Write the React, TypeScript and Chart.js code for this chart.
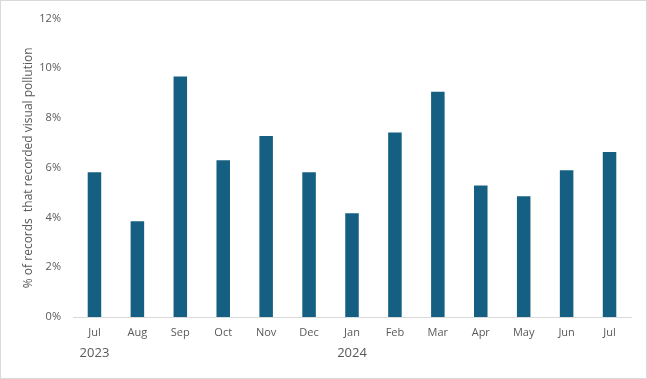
import React, { useEffect, useRef } from "react";
import { Chart, registerables } from "chart.js";

Chart.register(...registerables);

const months = ["Jul", "Aug", "Sep", "Oct", "Nov", "Dec", "Jan", "Feb", "Mar", "Apr", "May", "Jun", "Jul"];
const values = [5.82, 3.85, 9.67, 6.3, 7.28, 5.82, 4.17, 7.42, 9.06, 5.29, 4.86, 5.9, 6.64];
const yearLabels = [
  { index: 0, text: "2023" },
  { index: 6, text: "2024" },
];
const yTitle = "% of records  that recorded visual pollution";

const FONT = "'Open Sans', 'Noto Sans', sans-serif";
const TEXT = "#595959";

export default function App() {
  const ref = useRef<HTMLCanvasElement>(null);
  useEffect(() => {
    if (!ref.current) return;
    const frame = {
      id: "frame",
      beforeDraw(chart: any) {
        const { ctx, width, height } = chart;
        ctx.save();
        ctx.fillStyle = "#ffffff";
        ctx.fillRect(0, 0, width, height);
        ctx.restore();
      },
      afterDraw(chart: any) {
        const { ctx, width, height } = chart;
        ctx.save();
        ctx.strokeStyle = "#d9d9d9";
        ctx.lineWidth = 1;
        ctx.strokeRect(0.5, 0.5, width - 1, height - 1);
        const xs = chart.scales.x;
        ctx.fillStyle = TEXT;
        ctx.font = `13px ${FONT}`;
        ctx.textAlign = "center";
        ctx.textBaseline = "middle";
        yearLabels.forEach((y) => {
          ctx.fillText(y.text, xs.getPixelForValue(y.index), 353);
        });
        ctx.restore();
      },
    };
    const chart = new Chart(ref.current, {
      type: "bar",
      data: {
        labels: months,
        datasets: [
          {
            data: values,
            backgroundColor: "#156082",
            barPercentage: 1,
            categoryPercentage: 0.315,
          },
        ],
      },
      options: {
        animation: false,
        responsive: false,
        maintainAspectRatio: false,
        layout: { padding: { top: 16, right: 16, bottom: 0, left: 0 } },
        plugins: { legend: { display: false }, tooltip: { enabled: false } },
        scales: {
          x: {
            grid: { display: false, drawTicks: false },
            border: { display: true, color: "#d9d9d9", width: 1 },
            ticks: { color: TEXT, font: { family: FONT, size: 11 }, padding: 9, maxRotation: 0 },
            afterFit: (s: any) => {
              s.height = 62;
            },
          },
          y: {
            min: 0,
            max: 12,
            grid: { display: false, drawTicks: false },
            border: { display: false },
            ticks: {
              stepSize: 2,
              color: TEXT,
              font: { family: FONT, size: 11 },
              padding: 12,
              callback: (v: any) => `${v}%`,
            },
            title: {
              display: true,
              text: yTitle,
              color: TEXT,
              font: { family: FONT, size: 12 },
              padding: { top: 21, bottom: 0 },
            },
            afterFit: (s: any) => {
              s.width = 73;
            },
          },
        },
      },
      plugins: [frame],
    });
    return () => chart.destroy();
  }, []);
  return (
    <div style={{ position: "absolute", left: 0, top: 0, width: 647, height: 379 }}>
      <canvas ref={ref} width={647} height={379} style={{ width: 647, height: 379, display: "block" }} />
    </div>
  );
}
